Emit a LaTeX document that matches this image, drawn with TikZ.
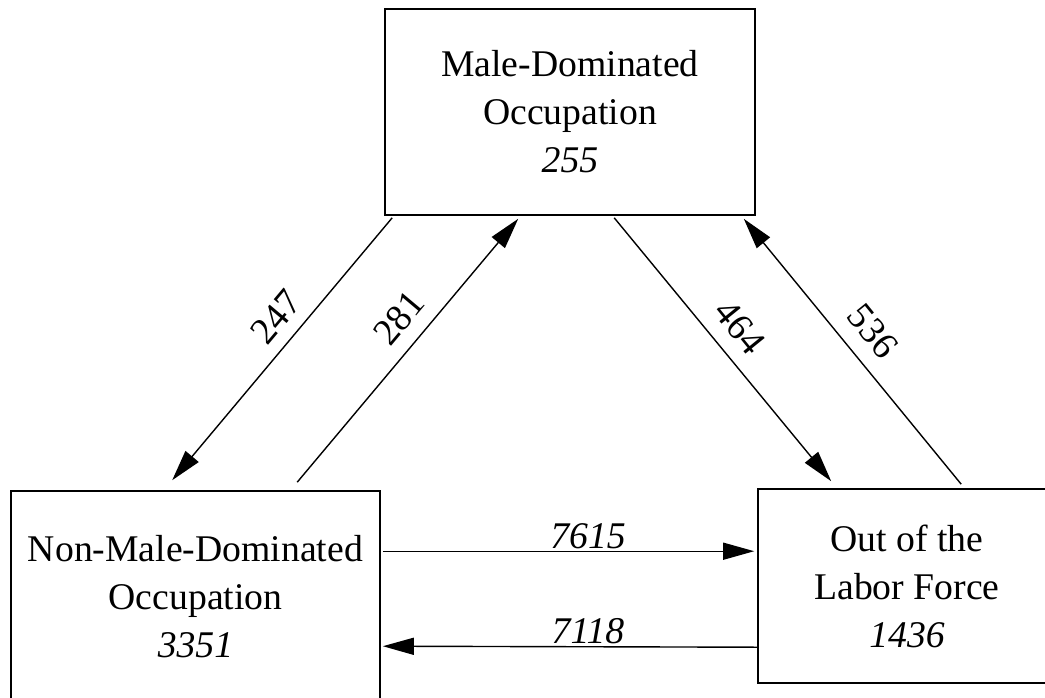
\documentclass[tikz,border=0pt]{standalone}
\usepackage{fontspec}
\setmainfont{Liberation Serif}
\usetikzlibrary{arrows.meta,calc}
\begin{document}
\begin{tikzpicture}[x=1pt,y=-1pt,
  box/.style={draw, line width=1.6pt, align=center, inner sep=0pt,
    font=\fontsize{37.7}{48}\selectfont},
  arr/.style={line width=1.4pt, -{Triangle[length=31pt,width=17pt]}},
  lbl/.style={font=\fontsize{37.7}{40}\selectfont, inner sep=0pt}]
\useasboundingbox (0,0) rectangle (1045,697);
\clip (0,0) rectangle (1045,697);
\node[box, minimum width=370pt, minimum height=206pt] (T) at (570,112)
  {Male-Dominated\\Occupation\\\textit{255}};
\node[box, minimum width=369pt, minimum height=212pt] (L) at (195.5,597)
  {Non-Male-Dominated\\Occupation\\\textit{3351}};
\node[box, minimum width=298pt, minimum height=194pt] (R) at (907,586)
  {Out of the\\Labor Force\\\textit{1436}};
% diagonal connectors
\draw[arr] ($(T.south west)+(8,2)$) -- ($(L.north west)+(162,-10)$);
\draw[arr] ($(L.north west)+(287,-8)$) -- ($(T.south west)+(134,3)$);
\draw[arr] ($(T.south west)+(230,2)$) -- ($(R.north west)+(74,-7)$);
\draw[arr] ($(R.north west)+(204,-4)$) -- ($(T.south east)+(-12,3)$);
% horizontal connectors
\draw[arr] ($(L.north east)+(2,61)$) -- ($(R.north west)+(-3,63)$);
\draw[arr] ($(R.north west)+(0,159)$) -- ($(L.north east)+(2,156)$);
% labels
\node[lbl, rotate=50] (l247) at (276,317) {247};
\node[lbl, rotate=50] (l281) at (399,318) {281};
\node[lbl, rotate=-51] (l464) at (740,327) {464};
\node[lbl, rotate=-51] (l536) at (873,331) {536};
\node[lbl] (l7615) at (588,536) {\textit{7615}};
\node[lbl] (l7118) at (588,631) {\textit{7118}};
\end{tikzpicture}
\end{document}
